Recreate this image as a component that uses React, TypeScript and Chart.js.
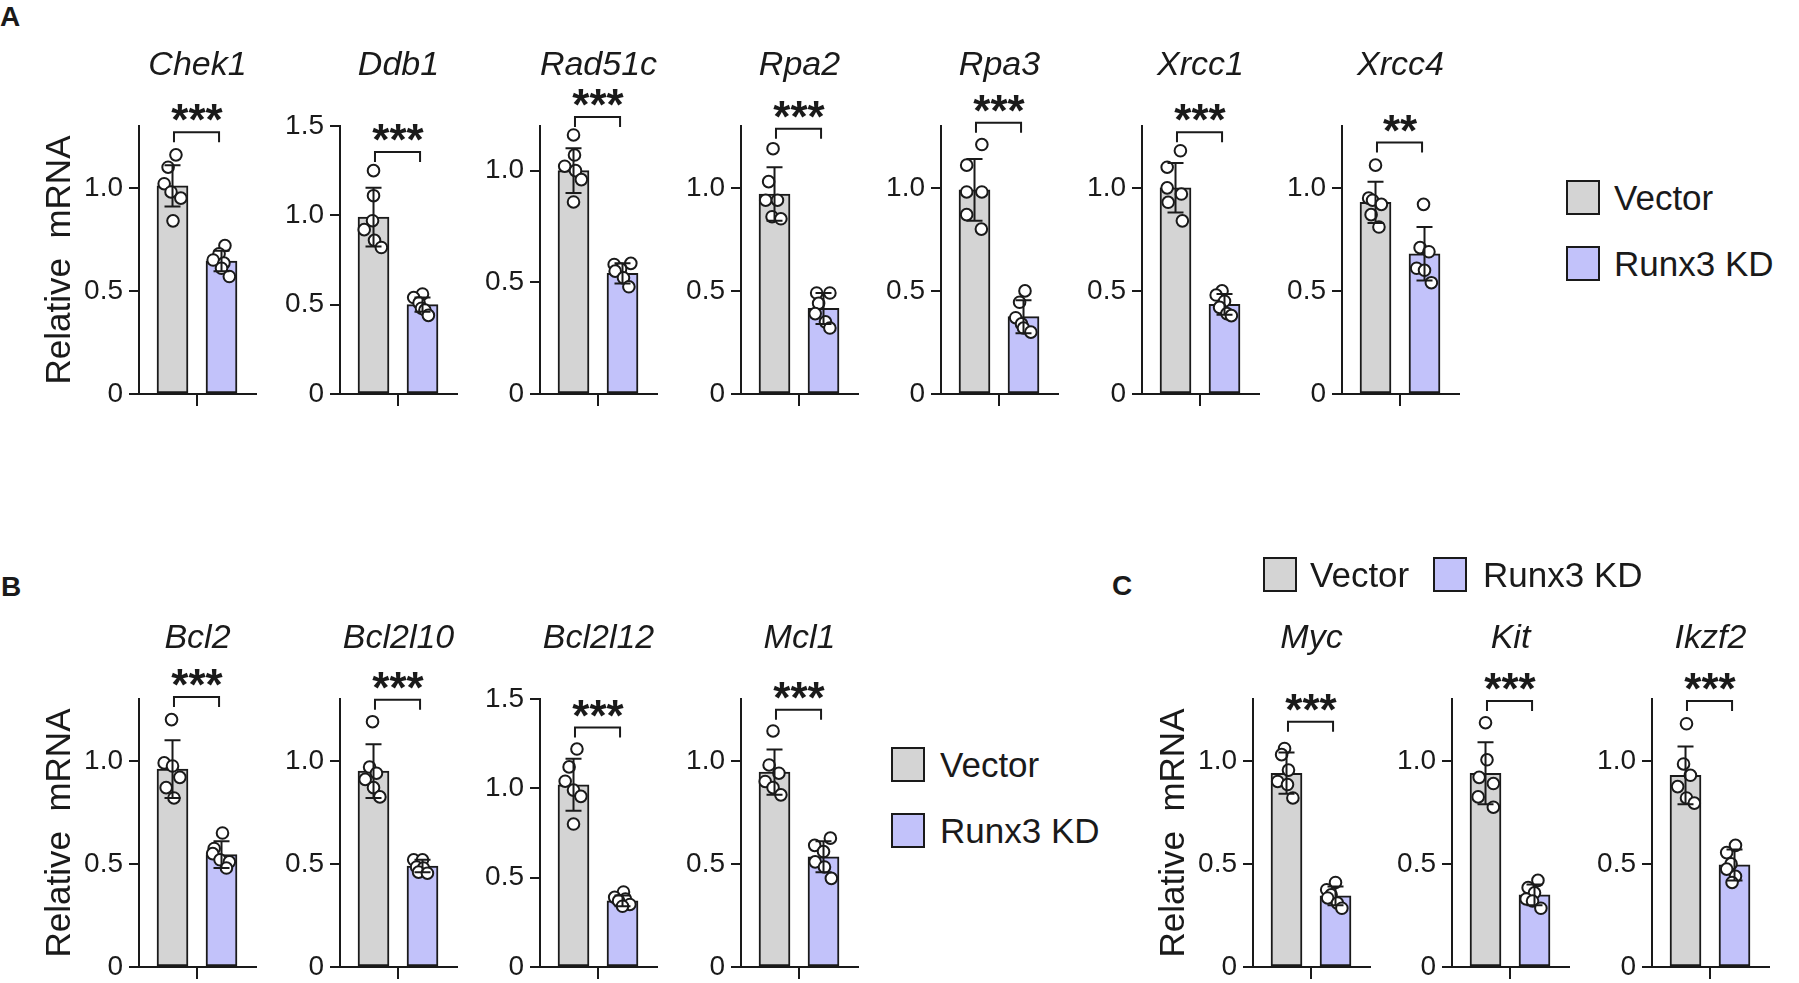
import { useEffect, useRef } from "react"
import { Chart, registerables } from "chart.js"

Chart.register(...registerables)

// ---- data ----
const GENES = ["Chek1", "Ddb1", "Rad51c", "Rpa2", "Rpa3", "Xrcc1", "Xrcc4", "Bcl2", "Bcl2l10", "Bcl2l12", "Mcl1", "Myc", "Kit", "Ikzf2"]
const SIGNIF = ["***", "***", "***", "***", "***", "***", "**", "***", "***", "***", "***", "***", "***", "***"]
const Y_MAX = [1.3, 1.5, 1.2, 1.3, 1.3, 1.3, 1.3, 1.3, 1.3, 1.5, 1.3, 1.3, 1.3, 1.3]
const TICKS_LOW = [0, 0.5, 1]
const TICKS_HIGH = [0, 0.5, 1, 1.5]
const Y_TICKS = [TICKS_LOW, TICKS_HIGH, TICKS_LOW, TICKS_LOW, TICKS_LOW, TICKS_LOW, TICKS_LOW, TICKS_LOW, TICKS_LOW, TICKS_HIGH, TICKS_LOW, TICKS_LOW, TICKS_LOW, TICKS_LOW]

const VECTOR_MEAN = [1.01, 0.99, 1.0, 0.97, 0.99, 1.0, 0.93, 0.96, 0.95, 1.02, 0.945, 0.94, 0.94, 0.93]
const VECTOR_SD = [0.1, 0.165, 0.1, 0.13, 0.15, 0.12, 0.1, 0.14, 0.13, 0.145, 0.11, 0.1, 0.15, 0.14]
const KD_MEAN = [0.645, 0.5, 0.54, 0.415, 0.375, 0.435, 0.68, 0.545, 0.49, 0.37, 0.535, 0.345, 0.35, 0.495]
const KD_SD = [0.05, 0.04, 0.045, 0.075, 0.08, 0.05, 0.13, 0.065, 0.03, 0.03, 0.075, 0.045, 0.05, 0.075]
const BRACKET = [1.27, 1.354, 1.24, 1.287, 1.316, 1.27, 1.22, 1.31, 1.296, 1.34, 1.248, 1.19, 1.29, 1.29]

const VECTOR_POINTS = [
  [1.16, 1.1, 1.02, 0.98, 0.95, 0.84],
  [1.25, 1.11, 0.97, 0.92, 0.86, 0.82],
  [1.16, 1.07, 1.02, 1.0, 0.96, 0.86],
  [1.19, 1.03, 0.94, 0.94, 0.86, 0.85],
  [1.21, 1.11, 0.98, 0.98, 0.87, 0.8],
  [1.18, 1.1, 1.0, 0.97, 0.93, 0.84],
  [1.11, 0.95, 0.94, 0.92, 0.87, 0.81],
  [1.2, 0.99, 0.975, 0.92, 0.87, 0.82],
  [1.19, 0.97, 0.94, 0.91, 0.87, 0.825],
  [1.22, 1.12, 1.04, 0.99, 0.955, 0.8],
  [1.145, 0.98, 0.94, 0.9, 0.87, 0.835],
  [1.06, 1.03, 0.955, 0.9, 0.885, 0.82],
  [1.185, 1.005, 0.92, 0.89, 0.825, 0.775],
  [1.18, 0.985, 0.93, 0.875, 0.82, 0.795],
]
const VECTOR_JITTER = [
  [0.07, -0.09, -0.17, -0.03, 0.17, 0.01],
  [0.0, 0.0, -0.02, -0.19, 0.02, 0.16],
  [0.0, 0.02, -0.18, 0.04, 0.16, 0.0],
  [-0.03, -0.12, -0.18, 0.06, -0.05, 0.13],
  [0.15, -0.16, -0.16, 0.15, -0.16, 0.14],
  [0.1, -0.17, -0.17, 0.12, -0.15, 0.14],
  [0.0, -0.14, -0.06, 0.12, -0.09, 0.07],
  [-0.02, -0.17, 0.0, 0.15, -0.13, 0.03],
  [-0.02, -0.08, 0.06, -0.17, 0.0, 0.13],
  [0.07, -0.09, -0.17, 0.0, 0.15, 0.0],
  [-0.03, -0.11, 0.09, -0.19, -0.03, 0.13],
  [-0.04, -0.1, 0.04, -0.18, 0.02, 0.13],
  [0.0, 0.03, -0.13, 0.16, -0.15, 0.16],
  [0.02, -0.04, 0.1, -0.16, 0.02, 0.18],
]
const KD_POINTS = [
  [0.72, 0.68, 0.65, 0.635, 0.61, 0.57],
  [0.56, 0.54, 0.51, 0.48, 0.47, 0.44],
  [0.585, 0.58, 0.56, 0.55, 0.52, 0.48],
  [0.49, 0.49, 0.44, 0.39, 0.35, 0.32],
  [0.5, 0.445, 0.37, 0.34, 0.32, 0.3],
  [0.5, 0.48, 0.45, 0.42, 0.39, 0.38],
  [0.92, 0.71, 0.69, 0.61, 0.6, 0.54],
  [0.65, 0.575, 0.55, 0.52, 0.51, 0.48],
  [0.52, 0.52, 0.485, 0.48, 0.46, 0.455],
  [0.42, 0.39, 0.38, 0.37, 0.35, 0.34],
  [0.625, 0.59, 0.56, 0.51, 0.485, 0.43],
  [0.41, 0.375, 0.35, 0.335, 0.31, 0.285],
  [0.42, 0.385, 0.36, 0.33, 0.32, 0.285],
  [0.59, 0.555, 0.5, 0.475, 0.44, 0.41],
]
const KD_JITTER = [
  [0.07, -0.05, -0.17, 0.05, 0.0, 0.16],
  [0.0, -0.18, -0.07, -0.02, 0.05, 0.12],
  [0.17, -0.17, -0.04, -0.15, 0.02, 0.13],
  [-0.14, 0.13, -0.1, -0.17, 0.04, 0.13],
  [0.03, -0.08, -0.16, -0.04, 0.0, 0.15],
  [-0.05, -0.17, 0.0, -0.1, 0.05, 0.14],
  [-0.02, -0.09, 0.09, -0.16, 0.0, 0.14],
  [0.02, -0.15, -0.18, -0.03, 0.16, 0.1],
  [-0.18, 0.0, -0.12, 0.02, -0.08, 0.1],
  [0.02, -0.16, 0.06, -0.08, 0.15, 0.0],
  [0.14, -0.18, 0.0, -0.17, 0.02, 0.16],
  [0.0, -0.18, -0.09, -0.16, 0.04, 0.13],
  [0.07, -0.13, 0.0, -0.17, -0.04, 0.13],
  [0.02, -0.16, -0.07, -0.16, 0.02, -0.05],
]

// ---- layout and style ----
const AXIS_X = [139, 340, 540, 741, 941, 1142, 1342, 139, 340, 540, 741, 1253, 1452, 1652]
const CANVAS_TOP = [0, 0, 0, 0, 0, 0, 0, 573, 573, 573, 573, 573, 573, 573]
const SHOW_YTITLE = [true, false, false, false, false, false, false, true, false, false, false, true, false, false]

const FONT = "'Liberation Sans', Arial, Helvetica, sans-serif"
const GRAY = "#d4d4d4"
const BLUE = "#c2c2fa"
const INK = "#1a1a1a"

const Y_AXIS_W = 100
const PLOT_W = 117
const PAD_RIGHT = 12
const PAD_TOP = 126
const PLOT_H = 268
const CANVAS_W = Y_AXIS_W + PLOT_W + PAD_RIGHT
const CANVAS_H = 430
const X_MIN = -0.684
const X_MAX = 1.704

Chart.defaults.font.family = FONT
Chart.defaults.color = INK

function GenePlot({ idx }: { idx: number }) {
  const canvasRef = useRef<HTMLCanvasElement>(null)
  const chartRef = useRef<Chart | null>(null)

  useEffect(() => {
    if (!canvasRef.current) return
    if (chartRef.current) chartRef.current.destroy()
    const ctx = canvasRef.current.getContext("2d")
    if (!ctx) return

    const means = [VECTOR_MEAN[idx], KD_MEAN[idx]]
    const sds = [VECTOR_SD[idx], KD_SD[idx]]

    // error bars, bracket, stars and gene title
    const annot = {
      id: "annot",
      afterDatasetsDraw(chart: any) {
        const { ctx: c, chartArea, scales } = chart
        const x = scales.x
        const y = scales.y
        c.save()
        c.strokeStyle = INK
        c.lineWidth = 2
        means.forEach((m, i) => {
          const px = x.getPixelForValue(i)
          const top = y.getPixelForValue(m + sds[i])
          const bot = y.getPixelForValue(m - sds[i])
          c.beginPath()
          c.moveTo(px, top)
          c.lineTo(px, bot)
          c.moveTo(px - 8, top)
          c.lineTo(px + 8, top)
          c.moveTo(px - 8, bot)
          c.lineTo(px + 8, bot)
          c.stroke()
        })
        const by = y.getPixelForValue(BRACKET[idx])
        const x0 = x.getPixelForValue(0.03)
        const x1 = x.getPixelForValue(0.95)
        c.beginPath()
        c.moveTo(x0, by + 10)
        c.lineTo(x0, by)
        c.lineTo(x1, by)
        c.lineTo(x1, by + 10)
        c.stroke()

        c.fillStyle = INK
        c.textAlign = "center"
        c.textBaseline = "alphabetic"
        c.font = `bold 44px ${FONT}`
        c.fillText(SIGNIF[idx], x.getPixelForValue(0.5), by - 22 + 0.575 * 44)

        c.textBaseline = "middle"
        c.font = `italic 34px ${FONT}`
        c.fillText(GENES[idx], (chartArea.left + chartArea.right) / 2, chartArea.top - 60)
        c.restore()
      },
    }

    chartRef.current = new Chart(ctx, {
      type: "bar",
      data: {
        datasets: [
          {
            type: "scatter",
            data: VECTOR_POINTS[idx].map((v, k) => ({ x: 0 + VECTOR_JITTER[idx][k], y: v })),
            pointRadius: 5.8,
            pointBackgroundColor: "#ffffff",
            pointBorderColor: INK,
            pointBorderWidth: 2,
            clip: false,
            order: 1,
          },
          {
            type: "scatter",
            data: KD_POINTS[idx].map((v, k) => ({ x: 1 + KD_JITTER[idx][k], y: v })),
            pointRadius: 5.8,
            pointBackgroundColor: "#ffffff",
            pointBorderColor: INK,
            pointBorderWidth: 2,
            clip: false,
            order: 1,
          },
          {
            type: "bar",
            data: [
              { x: 0, y: VECTOR_MEAN[idx] },
              { x: 1, y: KD_MEAN[idx] },
            ],
            backgroundColor: [GRAY, BLUE],
            borderColor: INK,
            borderWidth: 2,
            borderSkipped: false,
            barThickness: 31,
            order: 3,
          },
        ] as any,
      },
      options: {
        animation: false,
        responsive: false,
        events: [],
        layout: { padding: { top: PAD_TOP, right: PAD_RIGHT, left: 0, bottom: 0 } },
        plugins: {
          legend: { display: false },
          tooltip: { enabled: false },
        },
        scales: {
          x: {
            type: "linear",
            min: X_MIN,
            max: X_MAX,
            offset: false,
            afterBuildTicks: (s: any) => {
              s.ticks = [{ value: 0.5 }]
            },
            afterFit: (s: any) => {
              s.height = CANVAS_H - PAD_TOP - PLOT_H
            },
            ticks: { display: false },
            grid: { display: true, offset: false, drawOnChartArea: false, drawTicks: true, tickLength: 12, color: INK, lineWidth: 2 },
            border: { display: true, color: INK, width: 2 },
          },
          y: {
            type: "linear",
            min: 0,
            max: Y_MAX[idx],
            afterBuildTicks: (s: any) => {
              s.ticks = Y_TICKS[idx].map((value) => ({ value }))
            },
            afterFit: (s: any) => {
              s.width = Y_AXIS_W
            },
            ticks: {
              font: { family: FONT, size: 28 },
              color: INK,
              padding: 6,
              callback: (v: any) => (Number(v) === 0 ? "0" : Number(v).toFixed(1)),
            },
            grid: { display: true, drawOnChartArea: false, drawTicks: true, tickLength: 10, color: INK, lineWidth: 2 },
            border: { display: true, color: INK, width: 2 },
            title: {
              display: SHOW_YTITLE[idx],
              text: "Relative  mRNA",
              font: { family: FONT, size: 35 },
              color: INK,
              padding: 0,
            },
          },
        },
      } as any,
      plugins: [annot],
    })

    return () => {
      if (chartRef.current) {
        chartRef.current.destroy()
        chartRef.current = null
      }
    }
  }, [idx])

  return (
    <canvas
      ref={canvasRef}
      width={CANVAS_W}
      height={CANVAS_H}
      style={{ position: "absolute", left: AXIS_X[idx] - Y_AXIS_W, top: CANVAS_TOP[idx], width: CANVAS_W, height: CANVAS_H }}
    />
  )
}

const SWATCH = { width: 34, height: 35, boxSizing: "border-box" as const, border: `2px solid ${INK}`, position: "absolute" as const }
const LEGEND_TEXT = { position: "absolute" as const, fontFamily: FONT, fontSize: 35, lineHeight: "40px", height: 40, color: INK, whiteSpace: "nowrap" as const }
const PANEL_LABEL = { position: "absolute" as const, fontFamily: FONT, fontSize: 28, fontWeight: 700, lineHeight: "28px", color: INK }

function SwatchItem({ x, y, textX, color, label }: { x: number; y: number; textX: number; color: string; label: string }) {
  return (
    <>
      <div style={{ ...SWATCH, left: x, top: y, background: color }} />
      <div style={{ ...LEGEND_TEXT, left: textX, top: y + 17.5 - 20 }}>{label}</div>
    </>
  )
}

export default function App() {
  useEffect(() => {
    document.body.style.margin = "0"
    document.body.style.background = "#ffffff"
  }, [])

  return (
    <div style={{ position: "relative", width: 1799, height: 983, overflow: "hidden", background: "#ffffff" }}>
      <div style={{ ...PANEL_LABEL, left: 0, top: 3 }}>A</div>
      <div style={{ ...PANEL_LABEL, left: 1, top: 573 }}>B</div>
      <div style={{ ...PANEL_LABEL, left: 1112, top: 572 }}>C</div>

      {GENES.map((g, i) => (
        <GenePlot key={g} idx={i} />
      ))}

      <SwatchItem x={1566} y={180} textX={1614} color={GRAY} label="Vector" />
      <SwatchItem x={1566} y={246} textX={1614} color={BLUE} label="Runx3 KD" />

      <SwatchItem x={891} y={747} textX={940} color={GRAY} label="Vector" />
      <SwatchItem x={891} y={813} textX={940} color={BLUE} label="Runx3 KD" />

      <SwatchItem x={1263} y={557} textX={1310} color={GRAY} label="Vector" />
      <SwatchItem x={1433} y={557} textX={1483} color={BLUE} label="Runx3 KD" />
    </div>
  )
}
